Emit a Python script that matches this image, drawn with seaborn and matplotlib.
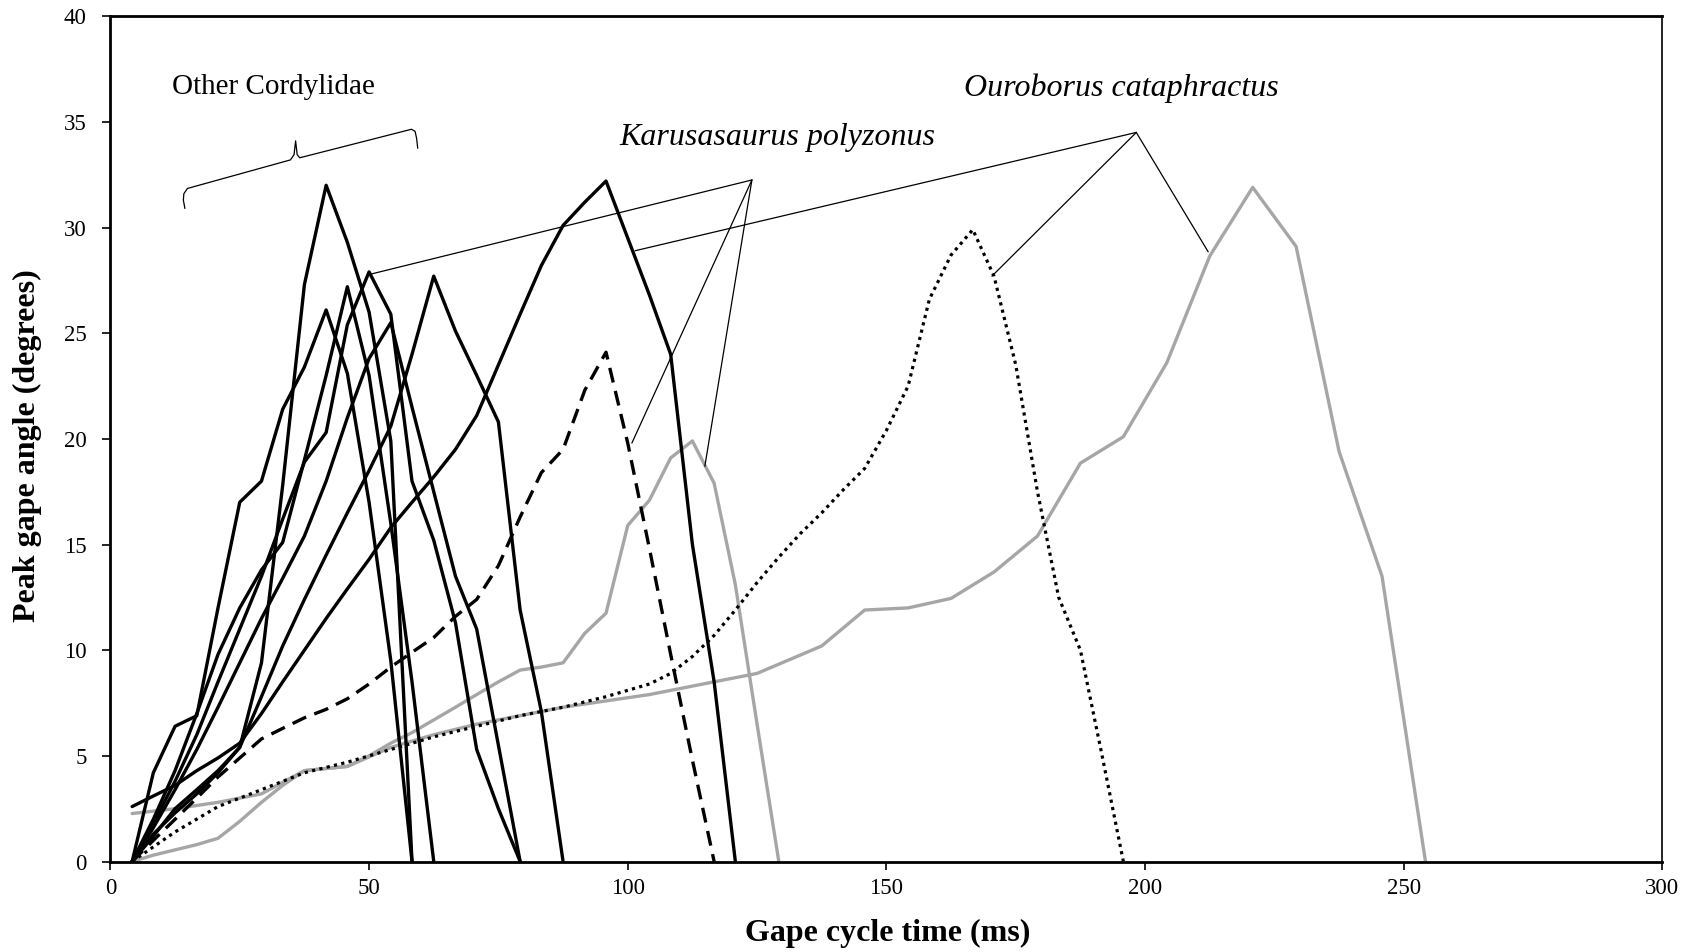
import matplotlib
matplotlib.use("Agg")
import matplotlib.pyplot as plt
import seaborn as sns

# ---------------- data ----------------
# frame times (ms) shared by the series filmed at every frame
T_FRAMES = [4.2, 8.3, 12.5, 16.7, 20.8, 25.0, 29.2, 33.3, 37.5, 41.7, 45.8,
            50.0, 54.2, 58.3, 62.5, 66.7, 70.8, 75.0, 79.2, 83.3, 87.5, 91.7,
            95.8, 100.0, 104.2, 108.3, 112.5, 116.7, 120.8, 125.0, 129.2]

# Other Cordylidae (black solid)
CORD_1 = [0, 1.3, 2.3, 3.2, 4.2, 5.4, 9.4, 17.8, 27.3, 32.0, 29.3, 26.0, 19.9, 0]
CORD_2 = [0, 4.2, 6.4, 6.9, 12.0, 17.0, 18.0, 21.4, 23.4, 26.1, 23.1, 17.0, 9.5, 0]
CORD_3 = [0, 2.0, 4.3, 7.0, 9.8, 12.0, 13.8, 15.1, 19.0, 23.0, 27.2, 23.0, 16.0, 8.5, 0]
CORD_4 = [0, 1.8, 3.8, 6.0, 8.5, 11.0, 13.5, 16.2, 18.9, 20.3, 25.4, 27.9, 25.9,
          18.0, 15.2, 11.3, 5.3, 2.5, 0]
CORD_5 = [0, 1.6, 3.4, 5.3, 7.3, 9.4, 11.5, 13.4, 15.4, 18.0, 21.0, 23.8, 25.5,
          21.5, 17.5, 13.5, 11.0, 5.5, 0]
CORD_6 = [0, 1.2, 2.5, 3.4, 4.3, 5.4, 7.8, 10.2, 12.4, 14.5, 16.5, 18.5, 20.6,
          24.0, 27.7, 25.1, 23.0, 20.8, 11.9, 7.1, 0]
CORD_7 = [2.6, 3.1, 3.6, 4.3, 4.9, 5.6, 7.0, 8.5, 10.0, 11.5, 12.9, 14.3, 15.8,
          17.0, 18.2, 19.5, 21.1, 23.5, 25.9, 28.2, 30.1, 31.2, 32.2, 29.5,
          26.8, 24.0, 15.0, 8.5, 0]

# Karusasaurus polyzonus
KARU_DASHED = [0, 1.0, 2.0, 3.0, 4.0, 4.9, 5.8, 6.3, 6.8, 7.2, 7.7, 8.4, 9.2,
               9.9, 10.6, 11.6, 12.4, 14.0, 16.3, 18.4, 19.5, 22.3, 24.1, 19.8,
               14.8, 9.8, 4.8, 0]
KARU_GREY = [0, 0.3, 0.55, 0.8, 1.1, 1.9, 2.8, 3.6, 4.3, 4.4, 4.5, 5.0, 5.6,
             6.1, 6.7, 7.3, 7.9, 8.5, 9.06, 9.2, 9.4, 10.8, 11.75, 15.9, 17.1,
             19.1, 19.9, 17.9, 13.1, 6.5, 0]

# Ouroborus cataphractus
OURO_DOT_T = [4.2, 12.5, 20.8, 29.2, 37.5, 45.8, 54.2, 62.5, 70.8, 79.2, 87.5,
              95.8, 104.2, 108.3, 112.5, 116.7, 120.8, 125.0, 129.2, 133.3,
              137.5, 141.7, 145.8, 150.0, 154.2, 158.3, 162.5, 166.7, 170.8,
              175.0, 179.2, 183.3, 187.5, 191.7, 195.8]
OURO_DOT_Y = [0, 1.4, 2.6, 3.4, 4.2, 4.7, 5.3, 5.9, 6.4, 6.9, 7.3, 7.8, 8.4,
              8.9, 9.7, 10.7, 11.9, 13.2, 14.4, 15.5, 16.5, 17.6, 18.6, 20.4,
              22.5, 26.6, 28.7, 29.9, 27.7, 23.5, 17.5, 12.5, 10.0, 5.0, 0]
OURO_GREY_T = [4.2, 12.5, 20.8, 29.2, 37.5, 45.8, 54.2, 62.5, 70.8, 79.2, 87.5,
               95.8, 104.2, 112.5, 125.0, 137.5, 145.8, 154.2, 162.5, 170.8,
               179.2, 187.5, 195.8, 204.2, 212.5, 220.8, 229.2, 237.5, 245.8,
               254.2]
OURO_GREY_Y = [2.27, 2.5, 2.8, 3.2, 4.3, 4.5, 5.4, 6.0, 6.5, 6.9, 7.3, 7.6, 7.9,
               8.3, 8.9, 10.2, 11.9, 12.0, 12.45, 13.7, 15.4, 18.85, 20.1, 23.6,
               28.65, 31.9, 29.1, 19.4, 13.5, 0]

# annotation anchors (data coordinates)
KARU_ANCHOR = (124.0, 32.25)
KARU_TARGETS = [(50.4, 27.8), (100.8, 19.8), (114.9, 18.7)]
OURO_ANCHOR = (198.3, 34.5)
OURO_TARGETS = [(101.4, 28.9), (170.4, 27.7), (212.2, 28.85)]
BRACE_X = [14.4, 14.1, 14.2, 14.9, 34.8, 35.5, 35.8, 36.1, 36.6, 58.2, 58.9, 59.2, 59.4]
BRACE_Y = [30.9, 31.3, 31.6, 31.85, 33.2, 33.45, 34.1, 33.45, 33.3, 34.65, 34.55, 34.2, 33.75]

# ---------------- style ----------------
sns.set_style("ticks")
plt.rcParams['font.family'] = ['Liberation Serif', 'DejaVu Serif']
plt.rcParams['text.color'] = 'black'
plt.rcParams['axes.labelcolor'] = 'black'
plt.rcParams['xtick.color'] = 'black'
plt.rcParams['ytick.color'] = 'black'

fig = plt.figure(figsize=(16.97, 9.52), dpi=100)
ax = fig.add_axes([0.06506, 0.09506, 0.91456, 0.88792])

GREY = '#a6a6a6'
LW = 2.4

sns.lineplot(x=T_FRAMES[:len(KARU_GREY)], y=KARU_GREY, ax=ax, color=GREY,
             linewidth=LW, sort=False, estimator=None)
sns.lineplot(x=OURO_GREY_T, y=OURO_GREY_Y, ax=ax, color=GREY,
             linewidth=LW, sort=False, estimator=None)
sns.lineplot(x=OURO_DOT_T, y=OURO_DOT_Y, ax=ax, color='black',
             linewidth=2.3, linestyle=(0, (1.0, 1.35)), sort=False, estimator=None)
sns.lineplot(x=T_FRAMES[:len(KARU_DASHED)], y=KARU_DASHED, ax=ax, color='black',
             linewidth=LW, linestyle=(0, (4.5, 2.6)), sort=False, estimator=None)
for ys in [CORD_1, CORD_2, CORD_3, CORD_4, CORD_5, CORD_6, CORD_7]:
    sns.lineplot(x=T_FRAMES[:len(ys)], y=ys, ax=ax, color='black',
                 linewidth=LW, sort=False, estimator=None)

# leader lines
for tx, ty in KARU_TARGETS:
    ax.plot([KARU_ANCHOR[0], tx], [KARU_ANCHOR[1], ty], color='black', lw=0.9)
for tx, ty in OURO_TARGETS:
    ax.plot([OURO_ANCHOR[0], tx], [OURO_ANCHOR[1], ty], color='black', lw=0.9)
ax.plot(BRACE_X, BRACE_Y, color='black', lw=0.9)

ax.text(31.5, 36.67, 'Other Cordylidae', fontsize=21, ha='center', va='center',
        color='black')
ax.text(129.0, 34.26, 'Karusasaurus polyzonus', fontsize=23, style='italic',
        ha='center', va='center', color='black')
ax.text(195.4, 36.57, 'Ouroborus cataphractus', fontsize=23, style='italic',
        ha='center', va='center', color='black')

ax.set_xlim(0, 300)
ax.set_ylim(0, 40)
ax.set_xticks(range(0, 301, 50))
ax.set_yticks(range(0, 41, 5))
ax.tick_params(axis='both', direction='out', length=6, width=1.2,
               labelsize=16.5, colors='black')
ax.tick_params(axis='y', pad=11)
ax.tick_params(axis='x', pad=6)
for side in ['left', 'bottom', 'top']:
    ax.spines[side].set_linewidth(2.0)
    ax.spines[side].set_color('black')
ax.spines['right'].set_linewidth(1.2)
ax.spines['right'].set_color('black')
ax.set_xlabel('')
ax.set_ylabel('')

fig.text(25 / 1568, 1 - 446 / 952, 'Peak gape angle (degrees)', rotation=90,
         ha='center', va='center', fontsize=23, fontweight='bold', color='black')
fig.text(0.5231, 1 - 933 / 952, 'Gape cycle time (ms)', ha='center', va='center',
         fontsize=23, fontweight='bold', color='black')

fig.savefig('out.png', dpi=100, facecolor='white')
